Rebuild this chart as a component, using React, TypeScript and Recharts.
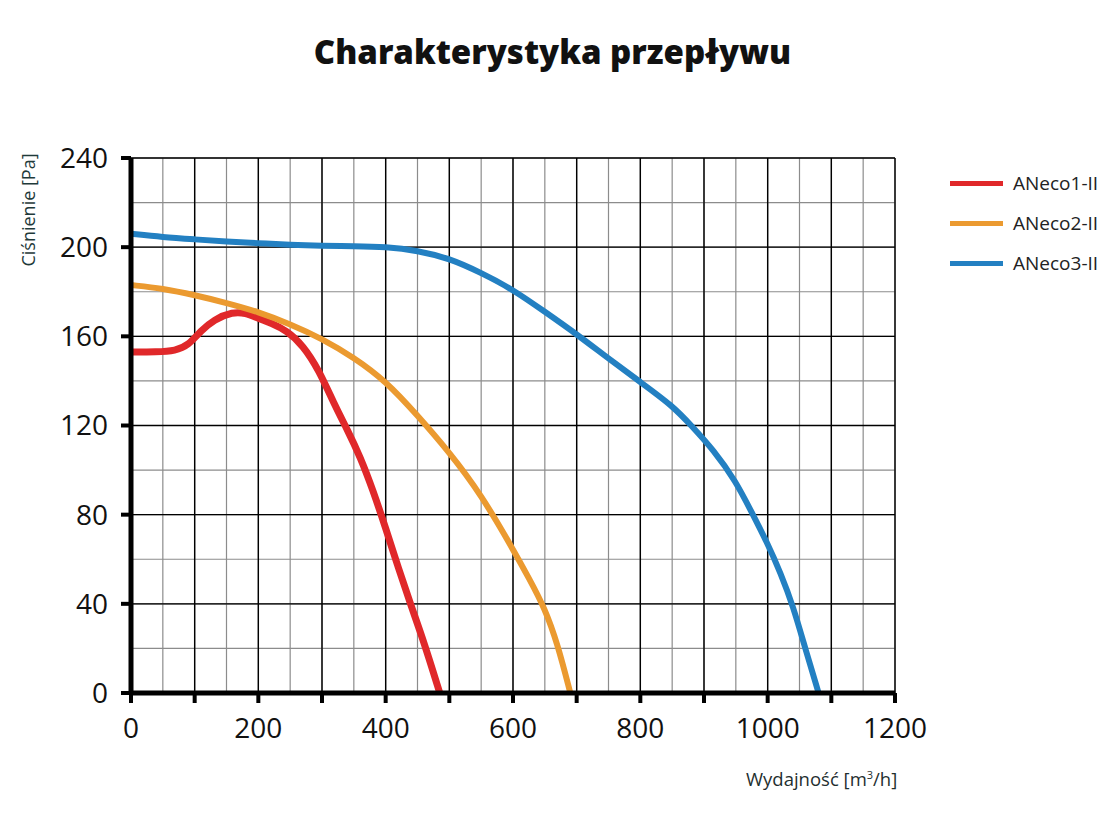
import React from "react";
import { CartesianGrid, Line, LineChart, XAxis, YAxis } from "recharts";

// ANeco1-II
const flow1 = [0, 40, 70, 90, 110, 130, 160, 180, 200, 220, 245, 270, 295, 320, 340, 360, 380, 400, 420, 440, 460, 485];
const pressure1 = [153, 153, 153.5, 156, 162.5, 167.5, 171, 170.5, 168, 166, 162.5, 156, 145, 129, 118, 106, 91, 74, 56, 39, 23, 0];

// ANeco2-II
const flow2 = [0, 50, 100, 150, 200, 250, 300, 350, 400, 450, 500, 550, 600, 625, 650, 670, 690];
const pressure2 = [183, 181.5, 178.5, 175, 171, 165.5, 159, 150.5, 140, 124.5, 108, 89, 64.5, 51.5, 38, 22, 0];

// ANeco3-II
const flow3 = [0, 50, 100, 150, 200, 250, 300, 350, 400, 450, 500, 550, 600, 650, 700, 750, 800, 850, 880, 915, 950, 975, 1000, 1020, 1040, 1060, 1080];
const pressure3 = [206, 204.5, 203.5, 202.5, 201.8, 201, 200.6, 200.5, 200.2, 198.5, 195, 188.5, 181, 171, 161, 150, 139.5, 129, 120, 109, 95, 81, 67, 54, 39, 19, 0];

const seriesNames = ["ANeco1-II", "ANeco2-II", "ANeco3-II"];
const seriesColors = ["#e0282a", "#eb9a30", "#2380c2"];

const xTicks = [0, 100, 200, 300, 400, 500, 600, 700, 800, 900, 1000, 1100, 1200];
const yTicks = [0, 40, 80, 120, 160, 200, 240];
const xMinor = [0, 50, 100, 150, 200, 250, 300, 350, 400, 450, 500, 550, 600, 650, 700, 750, 800, 850, 900, 950, 1000, 1050, 1100, 1150, 1200];
const yMinor = [0, 20, 40, 60, 80, 100, 120, 140, 160, 180, 200, 220, 240];

const toPoints = (xs: number[], ys: number[]) => xs.map((x, i) => ({ x, y: ys[i] }));

const series = [
  toPoints(flow1, pressure1),
  toPoints(flow2, pressure2),
  toPoints(flow3, pressure3),
];
const widths = [7, 6, 6];

const font = "'Open Sans', 'Noto Sans', sans-serif";

export default function App() {
  return (
    <div style={{ position: "absolute", left: 0, top: 0, width: 1120, height: 840, background: "#fff", fontFamily: font }}>
      <div
        style={{
          position: "absolute",
          left: 0,
          top: 29,
          width: 1105,
          textAlign: "center",
          fontSize: 33,
          fontWeight: 800,
          color: "#111",
        }}
      >
        Charakterystyka przepływu
      </div>

      <LineChart width={1120} height={840} margin={{ top: 158, right: 225, bottom: 87, left: 56 }}>
        <CartesianGrid stroke="#8c8c8c" strokeWidth={1.2} horizontalValues={yMinor} verticalValues={xMinor} />
        <CartesianGrid stroke="#000" strokeWidth={1.4} horizontalValues={yTicks} verticalValues={xTicks} />
        <XAxis
          type="number"
          dataKey="x"
          domain={[0, 1200]}
          ticks={xTicks}
          interval={0}
          height={60}
          allowDataOverflow
          tickFormatter={(v: number) => (v % 200 === 0 ? String(v) : "")}
          axisLine={{ stroke: "#000", strokeWidth: 5 }}
          tickLine={{ stroke: "#000", strokeWidth: 4 }}
          tickSize={10}
          tickMargin={15}
          tick={{ fill: "#111", fontSize: 28, fontFamily: font }}
        />
        <YAxis
          type="number"
          domain={[0, 240]}
          ticks={yTicks}
          interval={0}
          width={75}
          axisLine={{ stroke: "#000", strokeWidth: 5 }}
          tickLine={{ stroke: "#000", strokeWidth: 4 }}
          tickSize={10}
          tickMargin={13}
          tick={{ fill: "#111", fontSize: 28, fontFamily: font }}
        />
        {series.map((d, i) => (
          <Line
            key={seriesNames[i]}
            data={d}
            dataKey="y"
            name={seriesNames[i]}
            type="basis"
            stroke={seriesColors[i]}
            strokeWidth={widths[i]}
            dot={false}
            activeDot={false}
            isAnimationActive={false}
          />
        ))}
      </LineChart>

      <div
        style={{
          position: "absolute",
          left: 28,
          top: 210,
          transform: "translate(-50%, -50%) rotate(-90deg)",
          whiteSpace: "nowrap",
          fontSize: 18,
          color: "#1f3a3a",
        }}
      >
        Ciśnienie [Pa]
      </div>
      <div
        style={{
          position: "absolute",
          left: 746,
          top: 766,
          whiteSpace: "nowrap",
          fontSize: 18.5,
          color: "#1f2f2f",
        }}
      >
        Wydajność [m<sup style={{ fontSize: 11 }}>3</sup>/h]
      </div>

      <div style={{ position: "absolute", left: 950, top: 163 }}>
        {seriesNames.map((n, i) => (
          <div key={n} style={{ display: "flex", alignItems: "center", height: 40 }}>
            <div style={{ width: 53, height: 5, background: seriesColors[i], marginRight: 10 }} />
            <span style={{ fontSize: 19, color: "#222" }}>{n}</span>
          </div>
        ))}
      </div>
    </div>
  );
}
